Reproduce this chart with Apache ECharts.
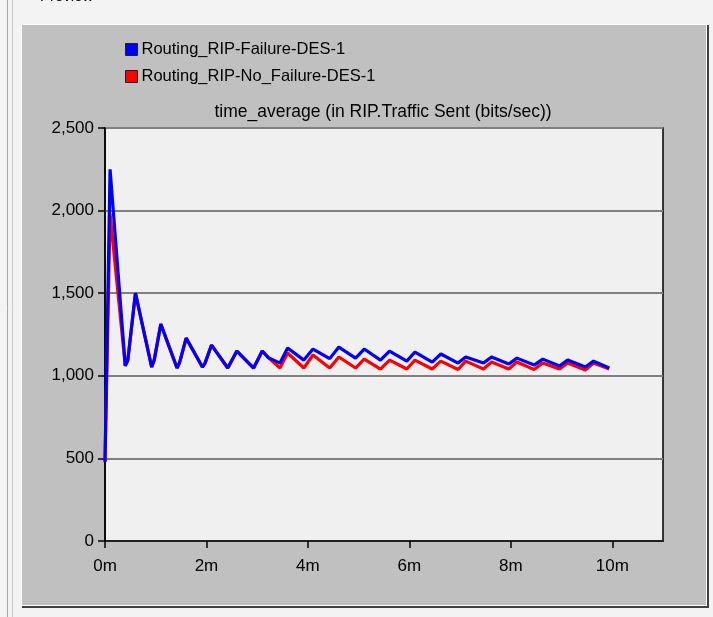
<!DOCTYPE html>
<html>
<head>
<meta charset="utf-8">
<script src="https://cdn.jsdelivr.net/npm/echarts@6/dist/echarts.min.js"></script>
<style>
html,body{margin:0;padding:0;background:#f3f3f3;}
#chart{width:713px;height:617px;}
</style>
</head>
<body>
<div id="chart"></div>
<script>
// Data (time in minutes, values in bits/sec)
const times = [0, 0.1, 0.4, 0.45, 0.6, 0.92, 0.97, 1.1, 1.42, 1.47, 1.6, 1.92, 1.97, 2.1, 2.42, 2.6, 2.93, 3.1, 3.22, 3.45, 3.6, 3.92, 4.1, 4.43, 4.61, 4.94, 5.11, 5.43, 5.61, 5.95, 6.11, 6.45, 6.62, 6.96, 7.11, 7.46, 7.62, 7.96, 8.12, 8.46, 8.63, 8.96, 9.12, 9.47, 9.63, 9.94];
const failureValues = [480, 2250, 1060, 1095, 1500, 1053, 1095, 1313, 1047, 1080, 1228, 1053, 1075, 1186, 1047, 1150, 1047, 1150, 1110, 1077, 1168, 1095, 1162, 1104, 1174, 1107, 1162, 1095, 1150, 1089, 1144, 1083, 1132, 1077, 1114, 1077, 1114, 1071, 1107, 1065, 1101, 1059, 1095, 1053, 1089, 1047];
const noFailureValues = [480, 1980, 1060, 1095, 1500, 1053, 1095, 1313, 1047, 1080, 1228, 1053, 1075, 1186, 1047, 1150, 1047, 1150, 1110, 1047, 1138, 1047, 1126, 1047, 1114, 1047, 1101, 1041, 1095, 1041, 1095, 1041, 1089, 1038, 1089, 1041, 1083, 1041, 1083, 1038, 1077, 1041, 1077, 1035, 1077, 1041];
const seriesNames = ['Routing_RIP-Failure-DES-1', 'Routing_RIP-No_Failure-DES-1'];
const xTicks = [0, 2, 4, 6, 8, 10];
const chartTitle = 'time_average (in RIP.Traffic Sent (bits/sec))';

const pair = (vals) => times.map((t, i) => [t, vals[i]]);
const FONT = '"Liberation Sans", Arial, sans-serif';

const chart = echarts.init(document.getElementById('chart'), null, {renderer: 'canvas'});
chart.setOption({
  backgroundColor: '#f3f3f3',
  animation: false,
  graphic: [
    {type: 'line', shape: {x1: 7.5, y1: 0, x2: 7.5, y2: 617}, style: {stroke: '#a8a8a8', lineWidth: 1}, z: 0},
    {type: 'line', shape: {x1: 12.5, y1: 0, x2: 12.5, y2: 617}, style: {stroke: '#c8c8c8', lineWidth: 1}, z: 0},
    {type: 'text', left: 40, top: -11, style: {text: 'Preview', font: '15px ' + FONT, fill: '#000'}, z: 0},
    {type: 'rect', shape: {x: 22, y: 25, width: 687, height: 583}, style: {fill: '#404040'}, z: -1},
    {type: 'rect', shape: {x: 21, y: 24, width: 686, height: 582}, style: {fill: '#ffffff'}, z: -1},
    {type: 'rect', shape: {x: 22, y: 25, width: 684, height: 580}, style: {fill: '#c0c0c0'}, z: -1}
  ],
  title: {
    text: chartTitle,
    left: 383,
    top: 103,
    padding: 0,
    textAlign: 'center',
    textStyle: {fontFamily: FONT, fontSize: 17.5, fontWeight: 'normal', color: '#000'}
  },
  legend: {
    orient: 'vertical',
    left: 125,
    top: 40,
    padding: 0,
    itemWidth: 12,
    itemHeight: 12,
    itemGap: 8,
    icon: 'rect',
    data: seriesNames,
    itemStyle: {borderColor: '#202020', borderWidth: 1},
    textStyle: {fontFamily: FONT, fontSize: 16.5, color: '#000', padding: [0, 0, 0, -1], lineHeight: 19}
  },
  grid: {
    left: 105, right: 50, top: 128, bottom: 76,
    show: true, backgroundColor: '#f0f0f0', borderColor: '#000', borderWidth: 1.5,
    containLabel: false
  },
  xAxis: {
    type: 'value', min: 0, max: 11, interval: 2,
    axisLine: {show: true, onZero: false, lineStyle: {color: '#000', width: 1.5}},
    axisTick: {show: true, inside: false, length: 7, lineStyle: {color: '#000', width: 1.5}},
    axisLabel: {
      margin: 17, fontFamily: FONT, fontSize: 17, color: '#000', showMaxLabel: false,
      formatter: (v) => xTicks.includes(v) ? v + 'm' : ''
    },
    splitLine: {show: false}
  },
  yAxis: {
    type: 'value', min: 0, max: 2500, interval: 500,
    axisLine: {show: true, lineStyle: {color: '#000', width: 1.5}},
    axisTick: {show: true, inside: false, length: 7, lineStyle: {color: '#000', width: 1.5}},
    axisLabel: {
      margin: 11, fontFamily: FONT, fontSize: 17, color: '#000',
      formatter: (v) => v.toLocaleString('en-US')
    },
    splitLine: {show: true, lineStyle: {color: '#808080', width: 2}}
  },
  series: [
    {
      name: seriesNames[1], type: 'line', data: pair(noFailureValues),
      showSymbol: false, symbol: 'none', color: '#ff0000',
      lineStyle: {color: '#ff0000', width: 3.2}, z: 2
    },
    {
      name: seriesNames[0], type: 'line', data: pair(failureValues),
      showSymbol: false, symbol: 'none', color: '#0000ff',
      lineStyle: {color: '#0000ff', width: 3.2}, z: 3
    }
  ]
});
</script>
</body>
</html>
